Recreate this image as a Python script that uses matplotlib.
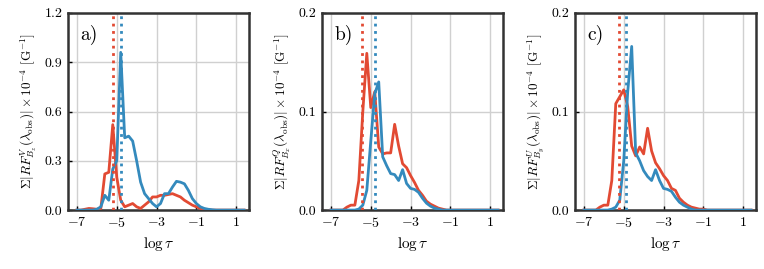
import numpy as np
import matplotlib
matplotlib.use('Agg')
import matplotlib.pyplot as plt

plt.rcParams['font.family'] = 'serif'
plt.rcParams['font.serif'] = ['cmr10', 'DejaVu Serif']
plt.rcParams['mathtext.fontset'] = 'cm'
plt.rcParams['axes.formatter.use_mathtext'] = True
plt.rcParams['axes.unicode_minus'] = True

red = '#E24A33'
blue = '#348ABD'

# log tau grid of the response functions
logtau = np.round(np.arange(-7.0, 1.41, 0.2), 2)

# panel a) RF^V_Bz
a_red = [0.0, 0.0, 0.005, 0.01, 0.008, 0.005, 0.01, 0.22, 0.23, 0.52,
         0.2, 0.06, 0.02, 0.03, 0.04, 0.02, 0.01, 0.03, 0.05, 0.08,
         0.08, 0.09, 0.09, 0.095, 0.1, 0.09, 0.08, 0.06, 0.045, 0.03,
         0.02, 0.01, 0.005, 0.002, 0.0, 0.0, 0.0, 0.0, 0.0, 0.0,
         0.0, 0.0, 0.0]
a_blue = [0.0, 0.0, 0.0, 0.0, 0.0, 0.005, 0.02, 0.09, 0.06, 0.25,
          0.3, 0.96, 0.44, 0.45, 0.42, 0.3, 0.17, 0.1, 0.07, 0.04,
          0.02, 0.04, 0.1, 0.1, 0.14, 0.175, 0.17, 0.16, 0.12, 0.07,
          0.04, 0.02, 0.01, 0.005, 0.002, 0.0, 0.0, 0.0, 0.0, 0.0,
          0.0, 0.0, 0.0]

# panel b) RF^Q_Bx
b_red = [0.0, 0.0, 0.0, 0.0, 0.003, 0.005, 0.005, 0.03, 0.1, 0.159,
         0.104, 0.12, 0.064, 0.057, 0.058, 0.058, 0.087, 0.065, 0.047, 0.043,
         0.035, 0.028, 0.02, 0.015, 0.009, 0.006, 0.004, 0.002, 0.001, 0.0,
         0.0, 0.0, 0.0, 0.0, 0.0, 0.0, 0.0, 0.0, 0.0, 0.0,
         0.0, 0.0, 0.0]
b_blue = [0.0, 0.0, 0.0, 0.0, 0.0, 0.0, 0.0, 0.001, 0.005, 0.02,
          0.07, 0.118, 0.13, 0.054, 0.045, 0.037, 0.036, 0.03, 0.041, 0.027,
          0.022, 0.021, 0.018, 0.012, 0.007, 0.004, 0.002, 0.001, 0.0, 0.0,
          0.0, 0.0, 0.0, 0.0, 0.0, 0.0, 0.0, 0.0, 0.0, 0.0,
          0.0, 0.0, 0.0]

# panel c) RF^U_By
c_red = [0.0, 0.0, 0.0, 0.0, 0.003, 0.005, 0.005, 0.03, 0.108, 0.115,
         0.122, 0.105, 0.065, 0.055, 0.064, 0.057, 0.083, 0.06, 0.048, 0.042,
         0.035, 0.03, 0.022, 0.02, 0.012, 0.008, 0.005, 0.003, 0.002, 0.001,
         0.001, 0.0, 0.0, 0.0, 0.0, 0.0, 0.0, 0.0, 0.0, 0.0,
         0.0, 0.0, 0.0]
c_blue = [0.0, 0.0, 0.0, 0.0, 0.0, 0.0, 0.0, 0.001, 0.003, 0.01,
          0.05, 0.12, 0.166, 0.058, 0.05, 0.04, 0.034, 0.03, 0.041, 0.03,
          0.022, 0.021, 0.019, 0.013, 0.008, 0.005, 0.003, 0.001, 0.0, 0.0,
          0.0, 0.0, 0.0, 0.0, 0.0, 0.0, 0.0, 0.0, 0.0, 0.0,
          0.0, 0.0, 0.0]

# dotted lines: mean log tau of each response
vlines_red = [-5.2, -5.42, -5.25]
vlines_blue = [-4.78, -4.78, -4.87]

labels = ['a)', 'b)', 'c)']
ylabels = [r'$\Sigma|RF^V_{B_z}(\lambda_{\rm obs})| \times 10^{-4}$ [G$^{-1}$]',
           r'$\Sigma|RF^Q_{B_x}(\lambda_{\rm obs})| \times 10^{-4}$ [G$^{-1}$]',
           r'$\Sigma|RF^U_{B_y}(\lambda_{\rm obs})| \times 10^{-4}$ [G$^{-1}$]']
ymax = [1.2, 0.2, 0.2]
yticks = [[0.0, 0.3, 0.6, 0.9, 1.2], [0.0, 0.1, 0.2], [0.0, 0.1, 0.2]]
reds = [a_red, b_red, c_red]
blues = [a_blue, b_blue, c_blue]
lefts = [0.089, 0.4215, 0.7526]

fig = plt.figure(figsize=(7.64, 2.69), dpi=100)
for i in range(3):
    ax = fig.add_axes([lefts[i], 0.219, 0.237, 0.733])
    ax.grid(True, color='#d0d0d0', lw=1.0, zorder=0)
    ax.plot(logtau, reds[i], color=red, lw=2.0, zorder=3)
    ax.plot(logtau, blues[i], color=blue, lw=2.0, zorder=3)
    ax.axvline(vlines_red[i], color=red, ls=':', lw=2, zorder=4)
    ax.axvline(vlines_blue[i], color=blue, ls=':', lw=2, zorder=4)
    ax.set_xlim(-7.45, 1.65)
    ax.set_ylim(0, ymax[i])
    ax.set_xticks([-7, -5, -3, -1, 1])
    ax.set_yticks(yticks[i])
    ax.set_yticklabels(['%.1f' % v for v in yticks[i]])
    ax.tick_params(direction='in', length=3, width=1, labelsize=10, pad=4)
    for s in ax.spines.values():
        s.set_linewidth(1.8)
        s.set_color('#333333')
    ax.set_xlabel(r'$\log\tau$', fontsize=11)
    ax.set_ylabel(ylabels[i], fontsize=9.5)
    ax.text(0.07, 0.94, labels[i], transform=ax.transAxes, fontsize=14,
            va='top', ha='left')

fig.savefig('out.png', dpi=100)
